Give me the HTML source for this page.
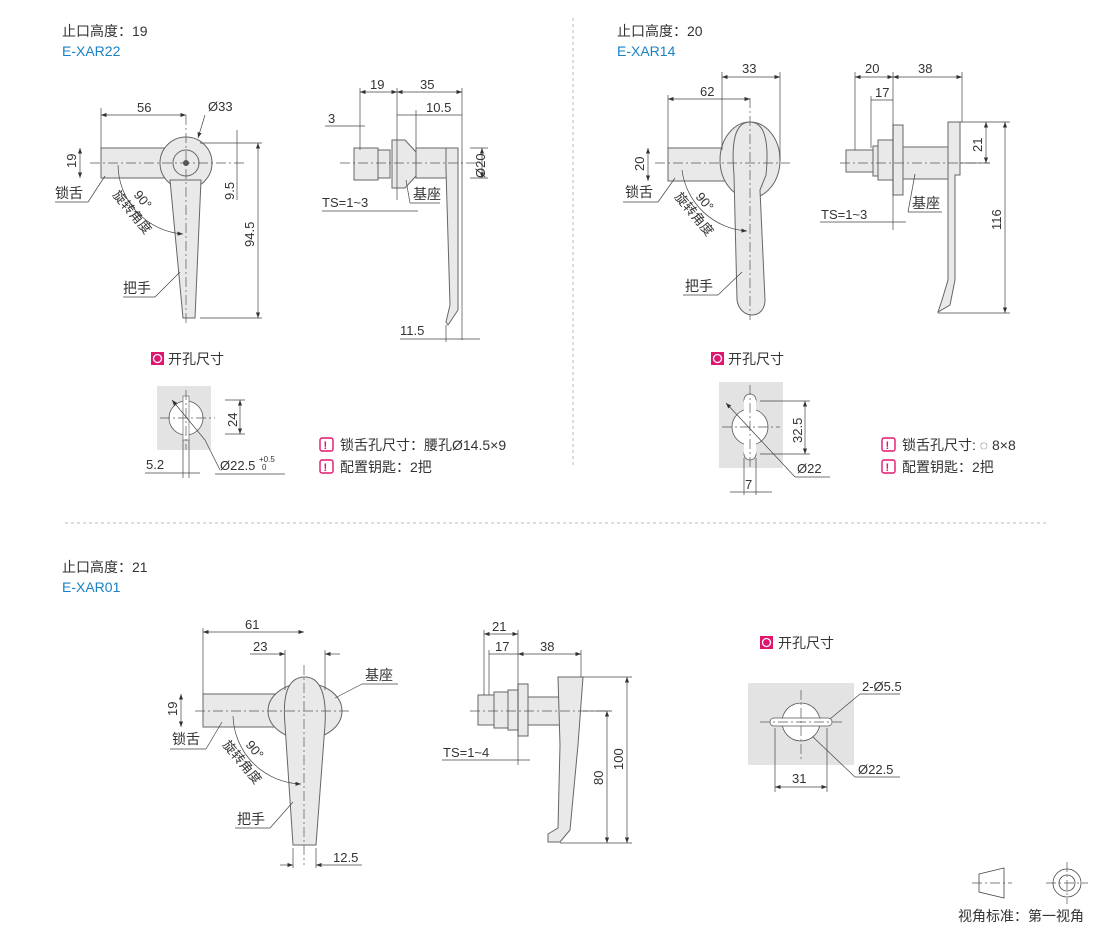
<!DOCTYPE html>
<html><head><meta charset="utf-8"><style>
html,body{margin:0;padding:0;background:#fff;}
svg{display:block;font-family:"Liberation Sans","Noto Sans CJK SC",sans-serif;}
.t{font-size:14px;fill:#333;}
.b{font-size:14px;fill:#1a82c4;}
.d{font-size:13px;fill:#333;}
.p{fill:#e9e9e9;stroke:#666;stroke-width:1;}
.l{stroke:#444;stroke-width:0.7;fill:none;}
.c{stroke:#555;stroke-width:0.7;fill:none;stroke-dasharray:10 3 2 3;}
.dv{stroke:#bbb;stroke-width:1;stroke-dasharray:3 3;}
</style></head><body>
<svg width="1110" height="931" viewBox="0 0 1110 931">
<defs><marker id="a" markerWidth="8" markerHeight="6" refX="8" refY="3" orient="auto-start-reverse"><path d="M0,0 L8,3 L0,6z" fill="#333"/></marker></defs>

<line x1="573" y1="18" x2="573" y2="466" class="dv"/>
<line x1="65" y1="523" x2="1048" y2="523" class="dv"/>

<!-- Section 1 -->
<text x="62" y="36" class="t">止口高度：19</text>
<text x="62" y="56" class="b">E-XAR22</text>
<rect x="101" y="148" width="64" height="30" class="p"/>
<circle cx="186" cy="163" r="26" class="p"/>
<circle cx="186" cy="163" r="13" class="p"/>
<circle cx="186" cy="163" r="3" fill="#555"/>
<path d="M170,180 L201,180 L195,318 L183,318Z" class="p"/>
<line x1="90" y1="163" x2="245" y2="163" class="c"/>
<line x1="186" y1="115" x2="186" y2="325" class="c"/>
<line x1="101" y1="108" x2="101" y2="148" class="l"/><line x1="101" y1="115" x2="186" y2="115" class="l" marker-start="url(#a)" marker-end="url(#a)"/>
<text x="137" y="112" class="d">56</text>
<text x="208" y="111" class="d">Ø33</text><line x1="205" y1="115" x2="198" y2="138" class="l" marker-end="url(#a)"/>
<line x1="80" y1="148" x2="80" y2="178" class="l" marker-start="url(#a)" marker-end="url(#a)"/>
<text x="76" y="168" class="d" transform="rotate(-90 76 168)">19</text>
<line x1="237" y1="130" x2="237" y2="200" class="l"/><text x="234" y="200" class="d" transform="rotate(-90 234 200)">9.5</text>
<line x1="258" y1="143" x2="258" y2="318" class="l" marker-start="url(#a)" marker-end="url(#a)"/>
<text x="254" y="247" class="d" transform="rotate(-90 254 247)">94.5</text>
<line x1="200" y1="318" x2="262" y2="318" class="l"/><line x1="200" y1="143" x2="262" y2="143" class="l"/>
<text x="55" y="198" class="t">锁舌</text><line x1="55" y1="202" x2="88" y2="202" class="l"/><line x1="88" y1="202" x2="105" y2="176" class="l"/>
<text x="123" y="293" class="t">把手</text><line x1="123" y1="297" x2="155" y2="297" class="l"/><line x1="155" y1="297" x2="180" y2="272" class="l"/>
<path d="M118,165 A70,70 0 0 0 183,234" class="l" marker-end="url(#a)"/>
<text x="112" y="195" class="d" transform="rotate(50 112 195)">旋转角度</text>
<text x="133" y="195" class="d" transform="rotate(50 133 195)">90°</text>

<!-- side 1 -->
<rect x="354" y="148" width="24" height="32" class="p"/>
<rect x="378" y="150" width="12" height="28" class="p"/>
<path d="M392,140 L405,140 L416,152 L416,176 L405,188 L392,188Z" class="p"/>
<rect x="416" y="148" width="40" height="30" class="p"/>
<path d="M446,148 L458,148 L458,310 L448,325 L446,322 L450,305 L446,170Z" class="p"/>
<line x1="340" y1="163" x2="480" y2="163" class="c"/>
<line x1="360" y1="88" x2="360" y2="150" class="l"/><line x1="397" y1="88" x2="397" y2="200" class="l"/><line x1="462" y1="88" x2="462" y2="340" class="l"/>
<line x1="360" y1="92" x2="397" y2="92" class="l" marker-start="url(#a)" marker-end="url(#a)"/><text x="370" y="89" class="d">19</text>
<line x1="397" y1="92" x2="462" y2="92" class="l" marker-start="url(#a)" marker-end="url(#a)"/><text x="420" y="89" class="d">35</text>
<line x1="416" y1="110" x2="416" y2="148" class="l"/><line x1="397" y1="115" x2="416" y2="115" class="l"/><text x="426" y="112" class="d">10.5</text><line x1="416" y1="115" x2="462" y2="115" class="l"/>
<line x1="325" y1="126" x2="365" y2="126" class="l"/><text x="328" y="123" class="d">3</text>
<line x1="470" y1="148" x2="488" y2="148" class="l"/><line x1="470" y1="178" x2="488" y2="178" class="l"/>
<line x1="482" y1="148" x2="482" y2="178" class="l" marker-start="url(#a)" marker-end="url(#a)"/><text x="485" y="178" class="d" transform="rotate(-90 485 178)">Ø20</text>
<text x="322" y="207" class="d">TS=1~3</text><line x1="322" y1="211" x2="418" y2="211" class="l"/>
<text x="413" y="199" class="t">基座</text><line x1="410" y1="203" x2="440" y2="203" class="l"/><line x1="410" y1="203" x2="406" y2="180" class="l"/>
<line x1="446" y1="325" x2="446" y2="342" class="l"/>
<text x="400" y="335" class="d">11.5</text><line x1="400" y1="339" x2="480" y2="339" class="l"/>

<!-- cutout 1 -->
<rect x="151" y="352" width="13" height="13" fill="#e0166e"/><circle cx="157.5" cy="358.5" r="4" fill="none" stroke="#fff" stroke-width="1.3"/>
<text x="168" y="364" class="t">开孔尺寸</text>
<rect x="157" y="386" width="54" height="64" fill="#e3e3e3"/>
<circle cx="186" cy="418" r="17" fill="#fff" stroke="#555" stroke-width="0.8"/>
<rect x="183" y="396" width="6" height="44" fill="#fff" stroke="#555" stroke-width="0.6"/>
<line x1="160" y1="418" x2="215" y2="418" class="c"/><line x1="186" y1="390" x2="186" y2="450" class="c"/>
<line x1="172" y1="400" x2="205" y2="440" class="l" marker-start="url(#a)"/><line x1="205" y1="440" x2="220" y2="470" class="l"/>
<line x1="225" y1="400" x2="245" y2="400" class="l"/><line x1="225" y1="434" x2="245" y2="434" class="l"/>
<line x1="240" y1="400" x2="240" y2="434" class="l" marker-start="url(#a)" marker-end="url(#a)"/><text x="237" y="427" class="d" transform="rotate(-90 237 427)">24</text>
<line x1="183" y1="440" x2="183" y2="478" class="l"/><line x1="189" y1="440" x2="189" y2="478" class="l"/>
<line x1="145" y1="473" x2="200" y2="473" class="l"/><text x="146" y="469" class="d">5.2</text>
<text x="220" y="470" class="d">Ø22.5</text><text x="259" y="462" style="font-size:8px;fill:#333">+0.5</text><text x="262" y="470" style="font-size:8px;fill:#333">0</text>
<line x1="215" y1="474" x2="285" y2="474" class="l"/>
<rect x="320" y="438" width="13" height="13" rx="2" fill="none" stroke="#e0166e" stroke-width="1.4"/><text x="323.5" y="449" style="font-size:11px;fill:#e0166e;font-weight:bold">!</text>
<text x="340" y="450" class="t">锁舌孔尺寸：腰孔Ø14.5×9</text>
<rect x="320" y="460" width="13" height="13" rx="2" fill="none" stroke="#e0166e" stroke-width="1.4"/><text x="323.5" y="471" style="font-size:11px;fill:#e0166e;font-weight:bold">!</text>
<text x="340" y="472" class="t">配置钥匙：2把</text>

<!-- Section 2 -->
<text x="617" y="36" class="t">止口高度：20</text>
<text x="617" y="56" class="b">E-XAR14</text>
<rect x="668" y="148" width="64" height="33" class="p"/>
<ellipse cx="750" cy="160" rx="30" ry="38" class="p"/>
<path d="M734,175 C730,130 740,122 750,122 C762,122 770,135 766,175 L760,190 L765,300 C765,320 740,320 737,300Z" class="p"/>
<line x1="655" y1="163" x2="790" y2="163" class="c"/><line x1="750" y1="98" x2="750" y2="320" class="c"/>
<line x1="668" y1="95" x2="668" y2="148" class="l"/><line x1="668" y1="99" x2="750" y2="99" class="l" marker-start="url(#a)" marker-end="url(#a)"/><text x="700" y="96" class="d">62</text>
<line x1="722" y1="72" x2="722" y2="150" class="l"/><line x1="780" y1="72" x2="780" y2="160" class="l"/>
<line x1="722" y1="77" x2="780" y2="77" class="l" marker-start="url(#a)" marker-end="url(#a)"/><text x="742" y="73" class="d">33</text>
<line x1="648" y1="148" x2="648" y2="181" class="l" marker-start="url(#a)" marker-end="url(#a)"/><text x="644" y="171" class="d" transform="rotate(-90 644 171)">20</text>
<text x="625" y="197" class="t">锁舌</text><line x1="623" y1="202" x2="658" y2="202" class="l"/><line x1="658" y1="202" x2="675" y2="178" class="l"/>
<text x="685" y="291" class="t">把手</text><line x1="683" y1="295" x2="718" y2="295" class="l"/><line x1="718" y1="295" x2="742" y2="272" class="l"/>
<path d="M682,170 A70,70 0 0 0 747,231" class="l" marker-end="url(#a)"/>
<text x="674" y="197" class="d" transform="rotate(50 674 197)">旋转角度</text>
<text x="695" y="197" class="d" transform="rotate(50 695 197)">90°</text>
<!-- side 2 -->
<rect x="846" y="150" width="28" height="22" class="p"/>
<rect x="873" y="146" width="12" height="30" class="p"/>
<rect x="878" y="140" width="15" height="40" class="p"/>
<rect x="893" y="125" width="10" height="70" class="p"/>
<rect x="903" y="147" width="45" height="32" class="p"/>
<path d="M948,122 L960,122 L960,175 L955,175 L955,280 L950,305 L938,312 L942,300 L948,280Z" class="p"/>
<line x1="840" y1="163" x2="990" y2="163" class="c"/>
<line x1="855" y1="72" x2="855" y2="150" class="l"/><line x1="893" y1="72" x2="893" y2="230" class="l"/><line x1="962" y1="72" x2="962" y2="122" class="l"/>
<line x1="855" y1="77" x2="893" y2="77" class="l" marker-start="url(#a)" marker-end="url(#a)"/><text x="865" y="73" class="d">20</text>
<line x1="893" y1="77" x2="962" y2="77" class="l" marker-start="url(#a)" marker-end="url(#a)"/><text x="918" y="73" class="d">38</text>
<line x1="871" y1="96" x2="871" y2="148" class="l"/><line x1="871" y1="100" x2="893" y2="100" class="l"/><text x="875" y="97" class="d">17</text>
<line x1="960" y1="122" x2="1010" y2="122" class="l"/><line x1="960" y1="163" x2="990" y2="163" class="l"/><line x1="938" y1="313" x2="1010" y2="313" class="l"/>
<line x1="986" y1="122" x2="986" y2="163" class="l" marker-start="url(#a)" marker-end="url(#a)"/><text x="982" y="152" class="d" transform="rotate(-90 982 152)">21</text>
<line x1="1005" y1="122" x2="1005" y2="313" class="l" marker-start="url(#a)" marker-end="url(#a)"/><text x="1001" y="230" class="d" transform="rotate(-90 1001 230)">116</text>
<text x="821" y="219" class="d">TS=1~3</text><line x1="820" y1="222" x2="906" y2="222" class="l"/>
<text x="912" y="208" class="t">基座</text><line x1="908" y1="212" x2="942" y2="212" class="l"/><line x1="908" y1="212" x2="915" y2="174" class="l"/>
<!-- cutout 2 -->
<rect x="711" y="352" width="13" height="13" fill="#e0166e"/><circle cx="717.5" cy="358.5" r="4" fill="none" stroke="#fff" stroke-width="1.3"/>
<text x="728" y="364" class="t">开孔尺寸</text>
<rect x="719" y="382" width="64" height="86" fill="#e3e3e3"/>
<circle cx="750" cy="427" r="18" fill="#fff" stroke="#555" stroke-width="0.8"/>
<circle cx="750" cy="400" r="6" fill="#fff" stroke="#555" stroke-width="0.8"/><circle cx="750" cy="454" r="6" fill="#fff" stroke="#555" stroke-width="0.8"/>
<rect x="744" y="400" width="12" height="54" fill="#fff"/>
<line x1="722" y1="427" x2="780" y2="427" class="c"/><line x1="750" y1="385" x2="750" y2="468" class="c"/>
<line x1="726" y1="403" x2="795" y2="477" class="l" marker-start="url(#a)"/><line x1="795" y1="477" x2="830" y2="477" class="l"/><text x="797" y="473" class="d">Ø22</text>
<line x1="760" y1="401" x2="810" y2="401" class="l"/><line x1="760" y1="454" x2="810" y2="454" class="l"/>
<line x1="805" y1="401" x2="805" y2="454" class="l" marker-start="url(#a)" marker-end="url(#a)"/><text x="802" y="443" class="d" transform="rotate(-90 802 443)">32.5</text>
<line x1="744" y1="458" x2="744" y2="495" class="l"/><line x1="756" y1="458" x2="756" y2="495" class="l"/>
<line x1="730" y1="492" x2="772" y2="492" class="l"/><text x="745" y="489" class="d">7</text>
<rect x="882" y="438" width="13" height="13" rx="2" fill="none" stroke="#e0166e" stroke-width="1.4"/><text x="885.5" y="449" style="font-size:11px;fill:#e0166e;font-weight:bold">!</text>
<text x="902" y="450" class="t">锁舌孔尺寸: ◌ 8×8</text>
<rect x="882" y="460" width="13" height="13" rx="2" fill="none" stroke="#e0166e" stroke-width="1.4"/><text x="885.5" y="471" style="font-size:11px;fill:#e0166e;font-weight:bold">!</text>
<text x="902" y="472" class="t">配置钥匙：2把</text>

<!-- Section 3 -->
<text x="62" y="572" class="t">止口高度：21</text>
<text x="62" y="592" class="b">E-XAR01</text>
<rect x="203" y="694" width="100" height="33" class="p"/>
<ellipse cx="305" cy="711" rx="37" ry="28" class="p"/>
<path d="M285,725 C282,690 290,677 305,677 C318,677 327,690 325,725 L316,845 L293,845Z" class="p"/>
<line x1="195" y1="711" x2="350" y2="711" class="c"/><line x1="304" y1="665" x2="304" y2="865" class="c"/>
<line x1="203" y1="628" x2="203" y2="694" class="l"/><line x1="203" y1="632" x2="304" y2="632" class="l" marker-start="url(#a)" marker-end="url(#a)"/><text x="245" y="629" class="d">61</text>
<line x1="285" y1="650" x2="285" y2="690" class="l"/><line x1="325" y1="650" x2="325" y2="690" class="l"/>
<line x1="250" y1="654" x2="285" y2="654" class="l" marker-end="url(#a)"/><line x1="325" y1="654" x2="340" y2="654" class="l" marker-start="url(#a)"/><text x="253" y="651" class="d">23</text>
<line x1="181" y1="694" x2="181" y2="727" class="l" marker-start="url(#a)" marker-end="url(#a)"/><text x="177" y="716" class="d" transform="rotate(-90 177 716)">19</text>
<text x="172" y="744" class="t">锁舌</text><line x1="170" y1="749" x2="206" y2="749" class="l"/><line x1="206" y1="749" x2="222" y2="722" class="l"/>
<text x="237" y="824" class="t">把手</text><line x1="235" y1="828" x2="270" y2="828" class="l"/><line x1="270" y1="828" x2="293" y2="802" class="l"/>
<text x="365" y="680" class="t">基座</text><line x1="362" y1="684" x2="398" y2="684" class="l"/><line x1="362" y1="684" x2="335" y2="698" class="l"/>
<path d="M233,716 A70,70 0 0 0 301,784" class="l" marker-end="url(#a)"/>
<text x="222" y="745" class="d" transform="rotate(50 222 745)">旋转角度</text>
<text x="245" y="745" class="d" transform="rotate(50 245 745)">90°</text>
<line x1="293" y1="848" x2="293" y2="868" class="l"/><line x1="316" y1="848" x2="316" y2="868" class="l"/>
<line x1="280" y1="865" x2="293" y2="865" class="l" marker-end="url(#a)"/><line x1="316" y1="865" x2="362" y2="865" class="l" marker-start="url(#a)"/><text x="333" y="862" class="d">12.5</text>
<!-- side 3 -->
<rect x="478" y="695" width="16" height="30" class="p"/>
<rect x="494" y="692" width="14" height="36" class="p"/>
<rect x="508" y="690" width="10" height="40" class="p"/>
<rect x="518" y="684" width="10" height="52" class="p"/>
<rect x="528" y="697" width="32" height="28" class="p"/>
<path d="M558,677 L583,677 L578,745 L570,830 L560,842 L548,842 L548,834 L558,828 L560,745Z" class="p"/>
<line x1="470" y1="711" x2="610" y2="711" class="c"/>
<line x1="484" y1="630" x2="484" y2="695" class="l"/><line x1="489" y1="650" x2="489" y2="695" class="l"/><line x1="518" y1="630" x2="518" y2="765" class="l"/><line x1="581" y1="650" x2="581" y2="677" class="l"/>
<line x1="484" y1="634" x2="518" y2="634" class="l" marker-start="url(#a)" marker-end="url(#a)"/><text x="492" y="631" class="d">21</text>
<line x1="489" y1="654" x2="518" y2="654" class="l"/><text x="495" y="651" class="d">17</text>
<line x1="518" y1="654" x2="581" y2="654" class="l" marker-start="url(#a)" marker-end="url(#a)"/><text x="540" y="651" class="d">38</text>
<line x1="583" y1="677" x2="632" y2="677" class="l"/><line x1="583" y1="711" x2="612" y2="711" class="l"/><line x1="560" y1="843" x2="632" y2="843" class="l"/>
<line x1="627" y1="677" x2="627" y2="843" class="l" marker-start="url(#a)" marker-end="url(#a)"/><text x="623" y="770" class="d" transform="rotate(-90 623 770)">100</text>
<line x1="607" y1="711" x2="607" y2="843" class="l" marker-start="url(#a)" marker-end="url(#a)"/><text x="603" y="785" class="d" transform="rotate(-90 603 785)">80</text>
<text x="443" y="757" class="d">TS=1~4</text><line x1="442" y1="760" x2="530" y2="760" class="l"/>
<!-- cutout 3 -->
<rect x="760" y="636" width="13" height="13" fill="#e0166e"/><circle cx="766.5" cy="642.5" r="4" fill="none" stroke="#fff" stroke-width="1.3"/>
<text x="778" y="648" class="t">开孔尺寸</text>
<rect x="748" y="683" width="106" height="82" fill="#e3e3e3"/>
<circle cx="801" cy="722" r="19" fill="#fff" stroke="#555" stroke-width="0.8"/>
<rect x="770" y="718" width="62" height="8" rx="4" fill="#fff" stroke="#555" stroke-width="0.7"/>
<rect x="780" y="719" width="42" height="6" fill="#fff"/>
<line x1="760" y1="722" x2="845" y2="722" class="c"/><line x1="801" y1="690" x2="801" y2="760" class="c"/>
<line x1="830" y1="719" x2="860" y2="694" class="l"/><line x1="860" y1="694" x2="900" y2="694" class="l"/><text x="862" y="691" class="d">2-Ø5.5</text>
<line x1="813" y1="737" x2="855" y2="777" class="l"/><line x1="855" y1="777" x2="900" y2="777" class="l"/><text x="858" y="774" class="d">Ø22.5</text>
<line x1="775" y1="728" x2="775" y2="792" class="l"/><line x1="827" y1="728" x2="827" y2="792" class="l"/>
<line x1="775" y1="787" x2="827" y2="787" class="l" marker-start="url(#a)" marker-end="url(#a)"/><text x="792" y="783" class="d">31</text>

<!-- projection symbol -->
<path d="M979,874 L1004,868 L1004,898 L979,892Z" fill="none" stroke="#444" stroke-width="0.8"/>
<line x1="972" y1="883" x2="1012" y2="883" class="c"/>
<circle cx="1067" cy="883" r="14" fill="none" stroke="#444" stroke-width="0.8"/>
<circle cx="1067" cy="883" r="8" fill="none" stroke="#444" stroke-width="0.8"/>
<line x1="1046" y1="883" x2="1088" y2="883" class="c"/><line x1="1067" y1="862" x2="1067" y2="904" class="c"/>
<text x="958" y="921" class="t">视角标准：第一视角</text>
</svg>
</body></html>
